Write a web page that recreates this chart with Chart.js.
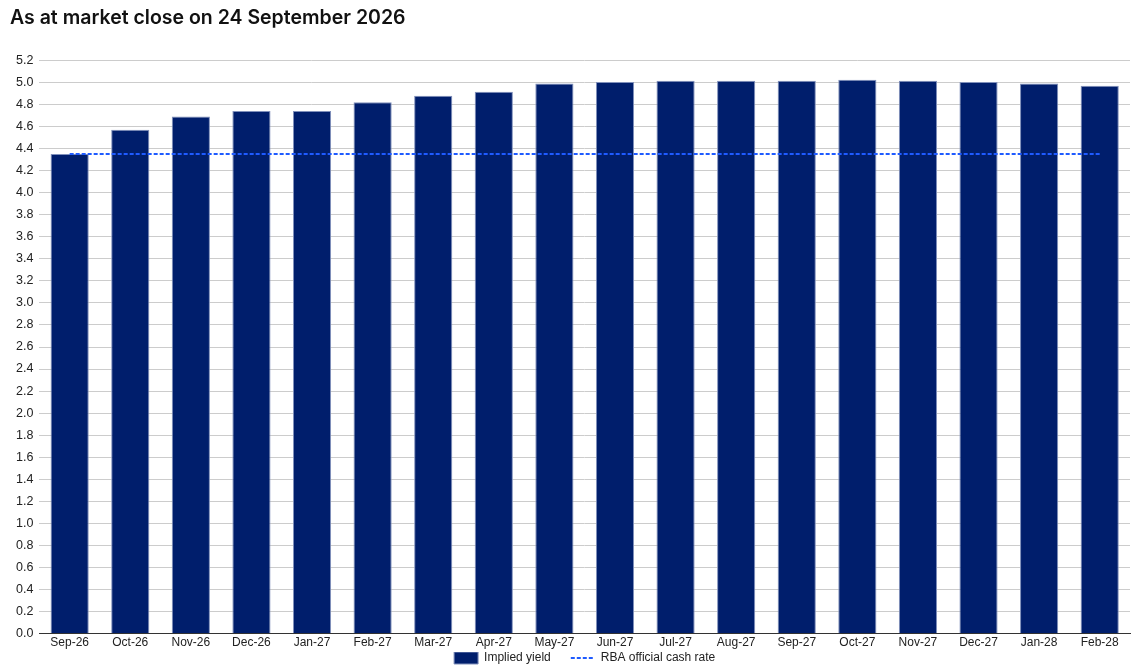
<!DOCTYPE html>
<html>
<head>
<meta charset="utf-8">
<script src="https://cdn.jsdelivr.net/npm/chart.js@4/dist/chart.umd.min.js"></script>
<style>
  body { margin: 0; background: #fff; }
  #wrap { width: 1139px; height: 665px; position: relative; }
</style>
</head>
<body>
<div id="wrap"><canvas id="chart"></canvas></div>
<script>
'use strict'

// months
let months = ['Sep-26', 'Oct-26', 'Nov-26', 'Dec-26', 'Jan-27', 'Feb-27', 'Mar-27', 'Apr-27', 'May-27',
  'Jun-27', 'Jul-27', 'Aug-27', 'Sep-27', 'Oct-27', 'Nov-27', 'Dec-27', 'Jan-28', 'Feb-28'];
// implied yield
let impliedYield = [4.35, 4.57, 4.69, 4.74, 4.74, 4.82, 4.88, 4.915, 4.99,
  5.005, 5.015, 5.015, 5.015, 5.025, 5.015, 5.005, 4.99, 4.97];
// RBA official cash rate
let cashRate = [4.35, 4.35, 4.35, 4.35, 4.35, 4.35, 4.35, 4.35, 4.35,
  4.35, 4.35, 4.35, 4.35, 4.35, 4.35, 4.35, 4.35, 4.35];

let ctx = document.getElementById('chart').getContext('2d');

let font = '"Liberation Sans", Arial, sans-serif';
let dash = [4, 2];

new Chart(ctx, {
  type: 'bar',
  data: {
    labels: months,
    datasets: [{
      label: 'Implied yield',
      data: impliedYield,
      backgroundColor: '#001e6c',
      borderColor: '#8090bb',
      borderWidth: 1,
      categoryPercentage: 0.63,
      barPercentage: 1,
      order: 2
    },
    {
      type: 'line',
      label: 'RBA official cash rate',
      data: cashRate,
      borderColor: '#1f5bff',
      backgroundColor: '#1f5bff',
      borderWidth: 2,
      borderDash: dash,
      pointRadius: 0,
      pointHoverRadius: 0,
      fill: false,
      order: 1
    }]
  },
  options: {
    responsive: true,
    maintainAspectRatio: false,
    animation: false,
    layout: { padding: { left: 10, right: 9, top: 0, bottom: -9 } },
    scales: {
      x: {
        grid: { display: false, drawTicks: false },
        border: { display: true, color: '#333', width: 1 },
        ticks: { color: '#222', font: { family: font, size: 12 }, padding: 2, maxRotation: 0, autoSkip: false }
      },
      y: {
        min: 0,
        max: 5.2,
        grid: { color: '#cccccc', drawTicks: false },
        border: { display: false },
        ticks: {
          stepSize: 0.2,
          color: '#222',
          padding: 6,
          font: { family: font, size: 12.5 },
          callback: function(v){ return v.toFixed(1); }
        }
      }
    },
    plugins: {
      title: {
        display: true,
        text: 'As at market close on 24 September 2026',
        align: 'start',
        color: '#111',
        font: { family: 'Inter, "Noto Sans", sans-serif', size: 19.5, weight: '600' },
        padding: { top: 6, bottom: 31 }
      },
      legend: {
        position: 'bottom',
        fullSize: false,
        labels: {
          color: '#222',
          font: { family: font, size: 12 },
          usePointStyle: true,
          pointStyleWidth: 24,
          boxHeight: 12,
          padding: 0,
          sort: function(a, b){ return a.datasetIndex - b.datasetIndex; },
          generateLabels: function(chart){
            let items = Chart.defaults.plugins.legend.labels.generateLabels(chart);
            items.forEach(function(it){
              if (it.datasetIndex === 0) {
                it.pointStyle = 'rect';
                it.text = it.text + '      ';
              } else {
                it.pointStyle = 'line';
                it.lineDash = dash;
                it.lineWidth = 2;
                it.strokeStyle = '#1f5bff';
              }
            });
            return items;
          }
        }
      },
      tooltip: { enabled: false }
    }
  }
});
</script>
</body>
</html>
